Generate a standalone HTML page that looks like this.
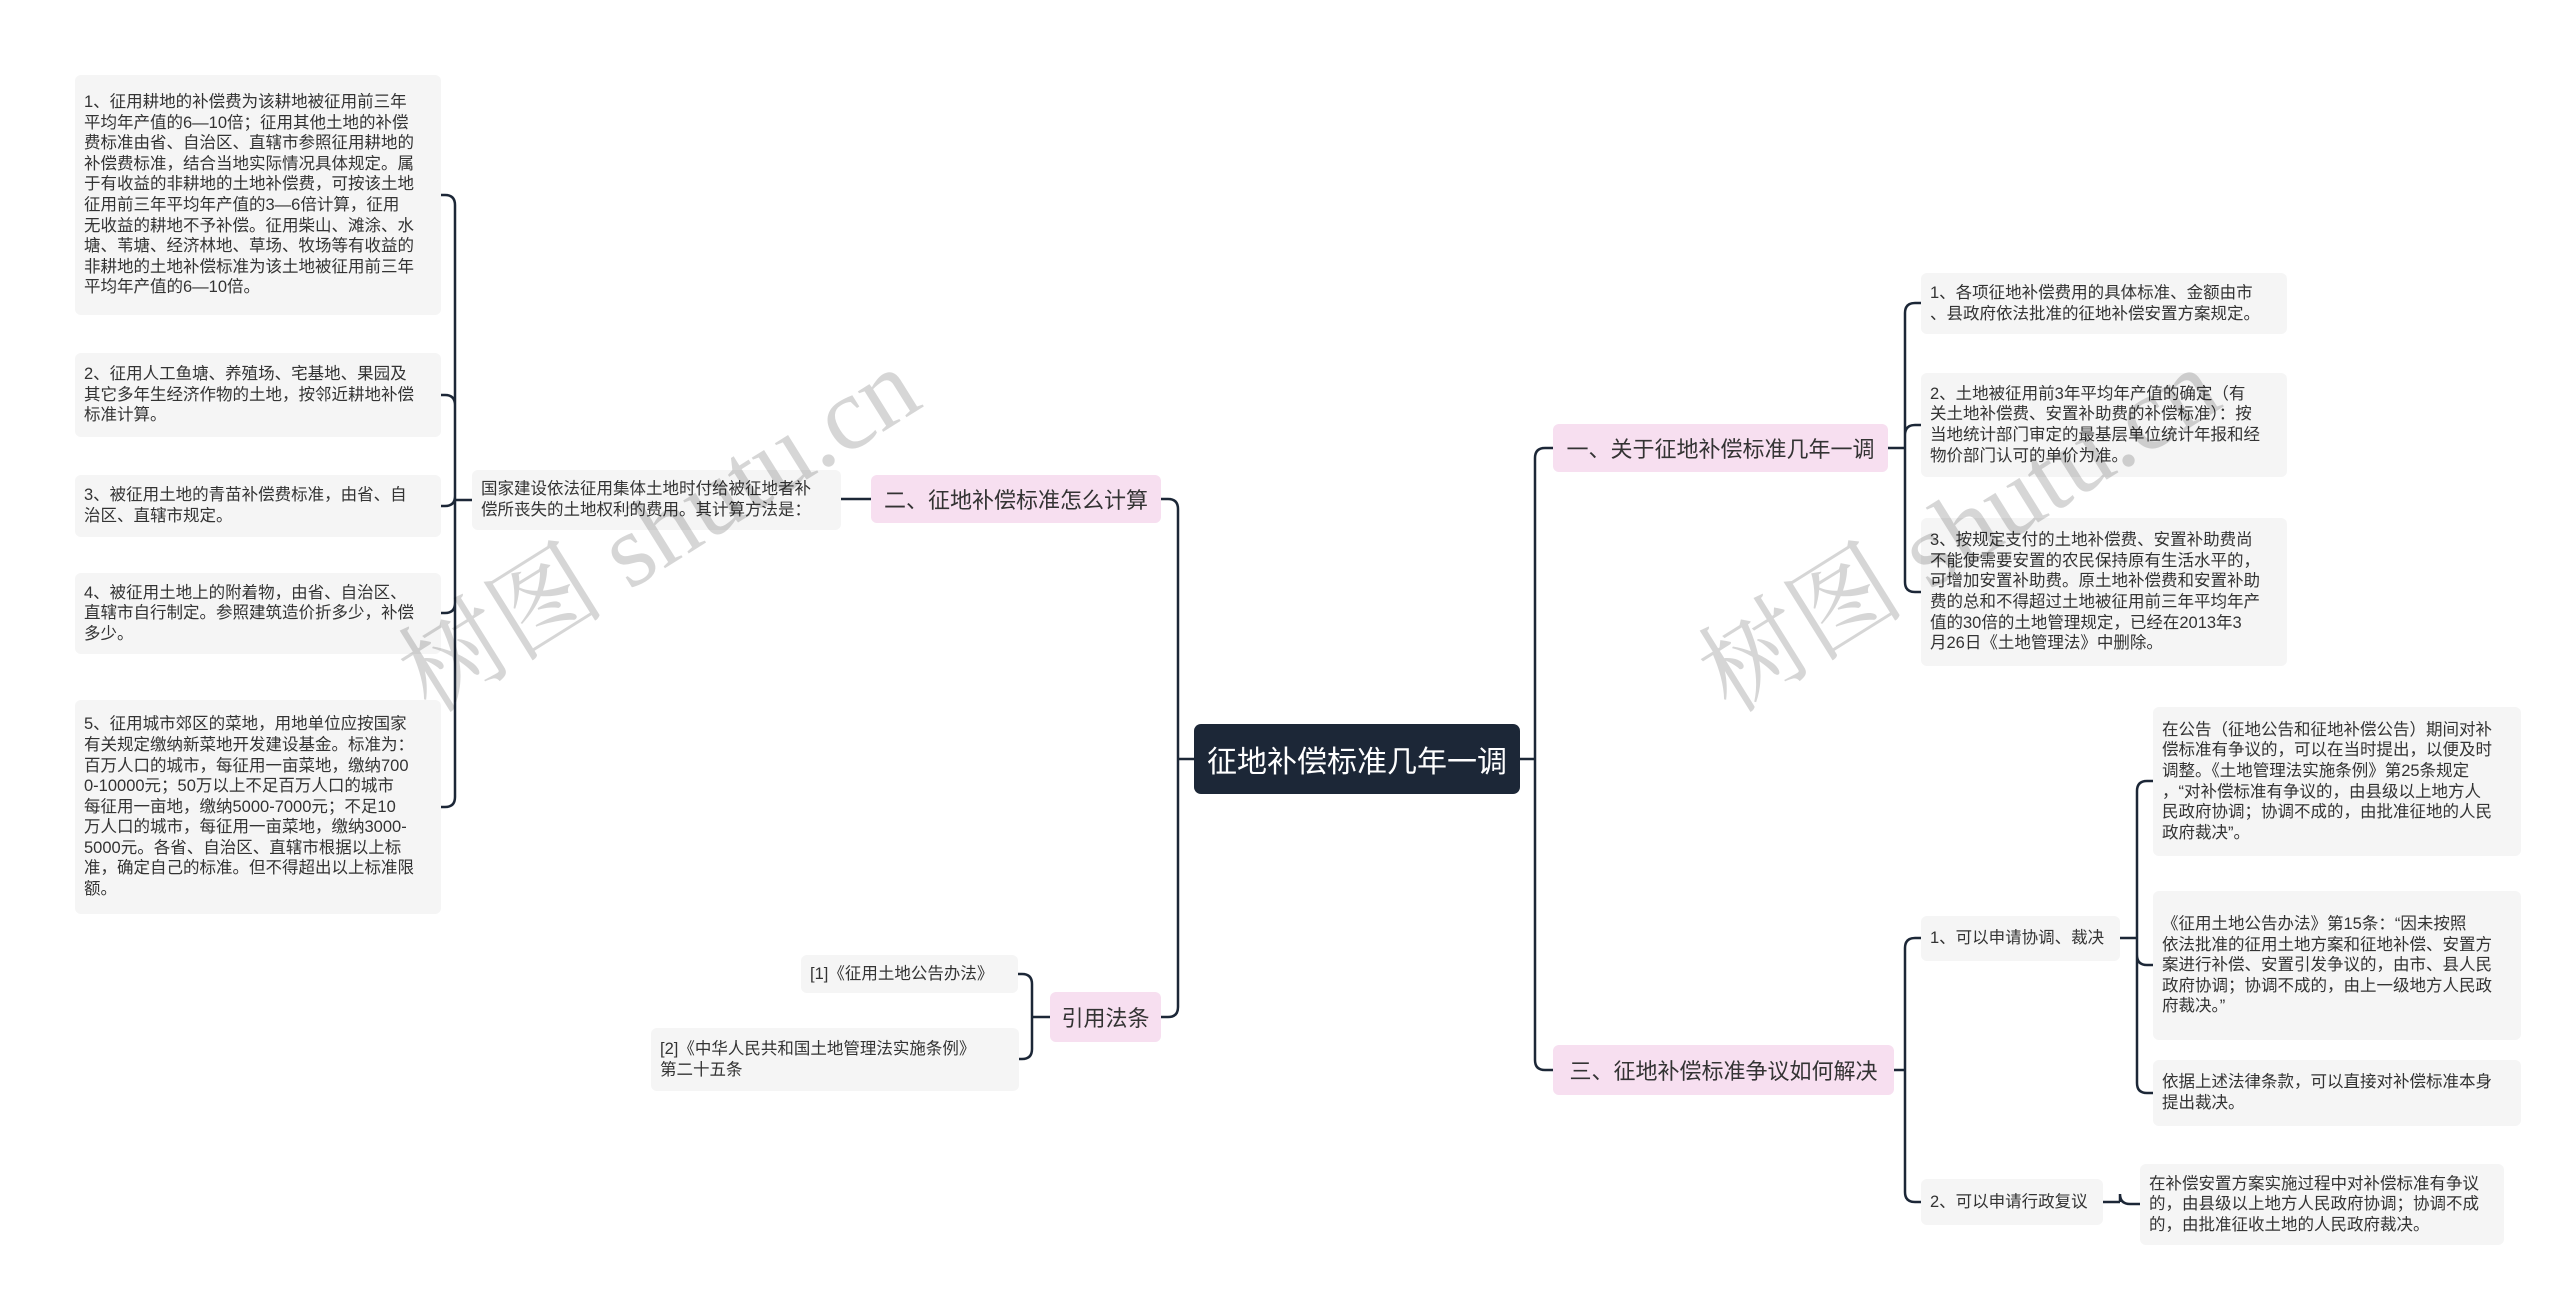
<!DOCTYPE html>
<html><head><meta charset="utf-8">
<style>
body{margin:0;width:2560px;height:1301px;background:#fff;position:relative;overflow:hidden;font-family:"Liberation Sans","Noto Sans CJK SC",sans-serif;}
.n{position:absolute;box-sizing:border-box;display:flex;align-items:center;white-space:nowrap;color:#333;}
.leaf{background:#f5f5f5;border-radius:6px;font-size:16.5px;line-height:20.6px;padding:0 9px;}
.br{background:#f7dff0;border-radius:6px;font-size:22px;justify-content:center;}
.root{background:#1c2737;color:#fff;border-radius:7px;font-size:30px;justify-content:center;}
.wm{position:absolute;font-family:"Liberation Serif","Noto Serif CJK SC",serif;font-size:104px;color:rgba(0,0,0,0.16);white-space:nowrap;transform:translate(-50%,-50%) rotate(-32deg);}
svg{position:absolute;left:0;top:0;}
</style></head><body>
<svg id="s" width="2560" height="1301"></svg>

<div class="n root" style="left:1194px;top:724px;width:326px;height:70px;">征地补偿标准几年一调</div>
<div class="n br" style="left:1553px;top:424px;width:335px;height:48px;">一、关于征地补偿标准几年一调</div>
<div class="n br" style="left:871px;top:475px;width:290px;height:48px;">二、征地补偿标准怎么计算</div>
<div class="n br" style="left:1050px;top:992px;width:111px;height:50px;">引用法条</div>
<div class="n br" style="left:1553px;top:1045px;width:341px;height:50px;">三、征地补偿标准争议如何解决</div>

<div class="n leaf" style="left:1921px;top:273px;width:366px;height:61px;">1、各项征地补偿费用的具体标准、金额由市<br>、县政府依法批准的征地补偿安置方案规定。</div>
<div class="n leaf" style="left:1921px;top:373px;width:366px;height:104px;">2、土地被征用前3年平均年产值的确定（有<br>关土地补偿费、安置补助费的补偿标准）：按<br>当地统计部门审定的最基层单位统计年报和经<br>物价部门认可的单价为准。</div>
<div class="n leaf" style="left:1921px;top:518px;width:366px;height:148px;">3、按规定支付的土地补偿费、安置补助费尚<br>不能使需要安置的农民保持原有生活水平的，<br>可增加安置补助费。原土地补偿费和安置补助<br>费的总和不得超过土地被征用前三年平均年产<br>值的30倍的土地管理规定，已经在2013年3<br>月26日《土地管理法》中删除。</div>

<div class="n leaf" style="left:1921px;top:916px;width:199px;height:45px;">1、可以申请协调、裁决</div>
<div class="n leaf" style="left:1921px;top:1179px;width:182px;height:46px;">2、可以申请行政复议</div>
<div class="n leaf" style="left:2153px;top:707px;width:368px;height:149px;">在公告（征地公告和征地补偿公告）期间对补<br>偿标准有争议的，可以在当时提出，以便及时<br>调整。《土地管理法实施条例》第25条规定<br>，“对补偿标准有争议的，由县级以上地方人<br>民政府协调；协调不成的，由批准征地的人民<br>政府裁决”。</div>
<div class="n leaf" style="left:2153px;top:891px;width:368px;height:149px;">《征用土地公告办法》第15条：“因未按照<br>依法批准的征用土地方案和征地补偿、安置方<br>案进行补偿、安置引发争议的，由市、县人民<br>政府协调；协调不成的，由上一级地方人民政<br>府裁决。”</div>
<div class="n leaf" style="left:2153px;top:1060px;width:368px;height:66px;">依据上述法律条款，可以直接对补偿标准本身<br>提出裁决。</div>
<div class="n leaf" style="left:2140px;top:1164px;width:364px;height:81px;">在补偿安置方案实施过程中对补偿标准有争议<br>的，由县级以上地方人民政府协调；协调不成<br>的，由批准征收土地的人民政府裁决。</div>

<div class="n leaf" style="left:472px;top:470px;width:369px;height:60px;">国家建设依法征用集体土地时付给被征地者补<br>偿所丧失的土地权利的费用。其计算方法是：</div>
<div class="n leaf" style="left:75px;top:75px;width:366px;height:240px;">1、征用耕地的补偿费为该耕地被征用前三年<br>平均年产值的6—10倍；征用其他土地的补偿<br>费标准由省、自治区、直辖市参照征用耕地的<br>补偿费标准，结合当地实际情况具体规定。属<br>于有收益的非耕地的土地补偿费，可按该土地<br>征用前三年平均年产值的3—6倍计算，征用<br>无收益的耕地不予补偿。征用柴山、滩涂、水<br>塘、苇塘、经济林地、草场、牧场等有收益的<br>非耕地的土地补偿标准为该土地被征用前三年<br>平均年产值的6—10倍。</div>
<div class="n leaf" style="left:75px;top:353px;width:366px;height:84px;">2、征用人工鱼塘、养殖场、宅基地、果园及<br>其它多年生经济作物的土地，按邻近耕地补偿<br>标准计算。</div>
<div class="n leaf" style="left:75px;top:475px;width:366px;height:62px;">3、被征用土地的青苗补偿费标准，由省、自<br>治区、直辖市规定。</div>
<div class="n leaf" style="left:75px;top:573px;width:366px;height:81px;">4、被征用土地上的附着物，由省、自治区、<br>直辖市自行制定。参照建筑造价折多少，补偿<br>多少。</div>
<div class="n leaf" style="left:75px;top:700px;width:366px;height:214px;">5、征用城市郊区的菜地，用地单位应按国家<br>有关规定缴纳新菜地开发建设基金。标准为：<br>百万人口的城市，每征用一亩菜地，缴纳700<br>0-10000元；50万以上不足百万人口的城市<br>每征用一亩地，缴纳5000-7000元；不足10<br>万人口的城市，每征用一亩菜地，缴纳3000-<br>5000元。各省、自治区、直辖市根据以上标<br>准，确定自己的标准。但不得超出以上标准限<br>额。</div>

<div class="n leaf" style="left:801px;top:955px;width:217px;height:38px;">[1]《征用土地公告办法》</div>
<div class="n leaf" style="left:651px;top:1028px;width:368px;height:63px;">[2]《中华人民共和国土地管理法实施条例》<br>第二十五条</div>

<div class="wm" style="left:654px;top:522px;">树图 shutu.cn</div>
<div class="wm" style="left:1954px;top:522px;">树图 shutu.cn</div>

<script>
var s=document.getElementById('s'),d='';
function g(px,py,sx,cx,cys){
  d+='M'+px+' '+py+'H'+sx;
  var dir=cx>sx?1:-1,r=10;
  cys.forEach(function(cy){
    if(Math.abs(cy-py)<2){d+='M'+sx+' '+py+'H'+cx;return;}
    var sg=cy>py?1:-1;
    d+='M'+sx+' '+py+'V'+(cy-sg*r)+'Q'+sx+' '+cy+' '+(sx+dir*r)+' '+cy+'H'+cx;
  });
}
g(1520,759,1535,1553,[448,1070]);
g(1194,759,1178,1161,[499,1017]);
g(1888,448,1905,1921,[303,425,592]);
g(1894,1070,1905,1921,[938,1202]);
g(2120,938,2137,2153,[781,965,1093]);
g(2103,1202,2120,2140,[1204]);
g(871,499,856,841,[500]);
g(472,500,455,441,[195,395,506,613,807]);
g(1050,1017,1032,1018,[974,1059]);
s.innerHTML='<path d="'+d+'" fill="none" stroke="#1c2737" stroke-width="2.5"/>';
</script>
</body></html>
